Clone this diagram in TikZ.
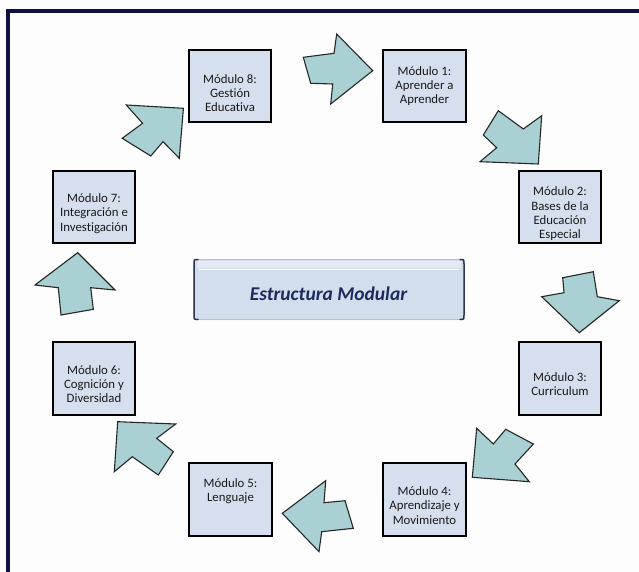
\documentclass[tikz,border=0pt]{standalone}
\usepackage{fontspec}
\setmainfont{Carlito}[Ligatures={NoCommon,NoRare,NoContextual}]
\definecolor{navyframe}{HTML}{0D1240}
\definecolor{bgcol}{HTML}{FDFDFE}
\definecolor{boxfill}{HTML}{D6DFED}
\definecolor{arrowfill}{HTML}{A9D1D3}
\definecolor{centerfill}{HTML}{D3DEEC}
\definecolor{centertop}{HTML}{E4EAF3}
\definecolor{centertext}{HTML}{1C2A5E}
\definecolor{bracketcol}{HTML}{2A3550}
\definecolor{textcol}{HTML}{1A1A1A}
\begin{document}
\begin{tikzpicture}[x=1pt,y=-1pt,
  modbox/.style={draw=black, line width=1.7pt, fill=boxfill, minimum width=82.5pt, minimum height=72.5pt, inner sep=0pt},
  modtext/.style={text=textcol, align=center, font=\fontsize{12.8}{14.3}\selectfont, inner sep=0pt},
  blockarrow/.style={draw=black!85, fill=arrowfill, line width=1.1pt, line join=miter}]
\useasboundingbox (0,0) rectangle (639,572);
\fill[bgcol] (0,0) rectangle (639,572);
% frame
\fill[navyframe] (6,9) rectangle (10,572);
\fill[navyframe] (6,9) rectangle (639,13);

% module boxes
\node[modbox] (m8) at (230,86) {};
\node[modbox] (m1) at (424.5,86) {};
\node[modbox] (m2) at (560,207) {};
\node[modbox] (m7) at (94,207) {};
\node[modbox] (m6) at (94,378.5) {};
\node[modbox] (m3) at (560,378.5) {};
\node[modbox] (m5) at (230.5,499.5) {};
\node[modbox] (m4) at (424.5,499.5) {};

\node[modtext] (t8) at (230,93) {Módulo 8:\\Gestión\\Educativa};
\node[modtext] (t1) at (424.5,86) {Módulo 1:\\Aprender a\\Aprender};
\node[modtext] (t2) at (560,214) {Módulo 2:\\Bases de la\\Educación\\Especial};
\node[modtext] (t7) at (94,213.5) {Módulo 7:\\Integración e\\Investigación};
\node[modtext] (t6) at (94,384) {Módulo 6:\\Cognición y\\Diversidad};
\node[modtext] (t3) at (560,384) {Módulo 3:\\Curriculum};
\node[modtext] (t5) at (230.5,491) {Módulo 5:\\Lenguaje};
\node[modtext] (t4) at (424.5,505.5) {Módulo 4:\\Aprendizaje y\\Movimiento};

% center box
\fill[centerfill, rounded corners=5pt] (193,259) rectangle (465,320);
\fill[centertop] (197,260.5) rectangle (461,268);
\draw[white, line width=0.6pt] (199,269.5) -- (459,269.5);
\draw[black!25, line width=0.6pt] (198,259.3) -- (460,259.3);
\draw[black!25, line width=0.6pt] (198,319.7) -- (460,319.7);
\draw[bracketcol, line width=1.5pt, line cap=round] (198,259.5) .. controls (194,259.5) .. (194,264) -- (194,315) .. controls (194,319.5) .. (198,319.5);
\draw[bracketcol, line width=1.5pt, line cap=round] (460,259.5) .. controls (464,259.5) .. (464,264) -- (464,315) .. controls (464,319.5) .. (460,319.5);
\node[text=centertext, font=\fontsize{19.5}{21}\selectfont\bfseries\itshape, inner sep=0pt] (ctr) at (328.5,293.5) {Estructura Modular};

% block arrows
% 8 -> 1
\draw[blockarrow] (303.3,57.3) -- (334,53.3) -- (336.7,34) -- (372.7,70.7) -- (330.7,104) -- (332.7,84) -- (310.7,83.3) -- cycle;
% 1 -> 2
\draw[blockarrow] (498.3,110.7) -- (523.3,129) -- (541.7,115.7) -- (538.3,164) -- (480,161.7) -- (496.7,147.7) -- (483.3,135) -- cycle;
% 2 -> 3
\draw[blockarrow] (562.7,277.7) -- (593.3,271.7) -- (597.3,296.7) -- (619.3,300.7) -- (579.3,332.7) -- (541.7,296.7) -- (564,292.7) -- cycle;
% 3 -> 4
\draw[blockarrow] (476.7,428.3) -- (493.3,444) -- (505.7,429.3) -- (533.3,444) -- (515,464) -- (529.3,481.7) -- (472.3,477.3) -- cycle;
% 4 -> 5
\draw[blockarrow] (325.7,480.7) -- (324,502.7) -- (345,500.7) -- (353.3,528.3) -- (321.7,531.7) -- (319,551.7) -- (282.3,513.3) -- cycle;
% 5 -> 6
\draw[blockarrow] (117.7,421.7) -- (175.7,424) -- (156.7,438.3) -- (173.3,451.7) -- (158.3,475) -- (132.3,456.7) -- (114.3,471.7) -- cycle;
% 6 -> 7
\draw[blockarrow] (77.7,252.7) -- (115,290) -- (90.7,287.7) -- (93.3,309.3) -- (61,315) -- (58.3,287.7) -- (35,285) -- cycle;
% 7 -> 8
\draw[blockarrow] (126.3,105) -- (183.4,108.3) -- (179.3,158.3) -- (163,141.7) -- (150.8,156) -- (122.2,138.3) -- (142.6,123.3) -- cycle;
\end{tikzpicture}
\end{document}
